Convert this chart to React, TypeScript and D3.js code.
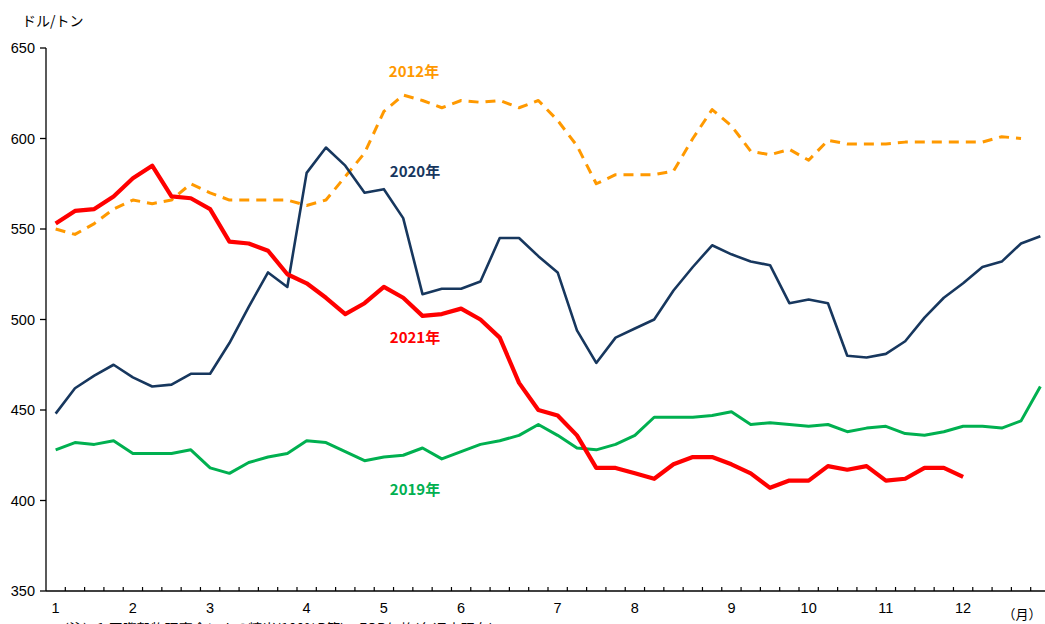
import React, { useRef, useEffect } from 'react';
import * as d3 from 'd3';

const width = 1045;
const height = 624;
const margin = { top: 48, right: -5, bottom: 33, left: 46 };

// weekly FOB prices (ドル/トン)
const weeks = d3.range(52);
const monthLabels = ['1', '2', '3', '4', '5', '6', '7', '8', '9', '10', '11', '12'];
const monthWeeks = [0, 4, 8, 13, 17, 21, 26, 30, 35, 39, 43, 47];
const yTicks = [350, 400, 450, 500, 550, 600, 650];

const y2012 = [
  550, 547, 553, 561, 566, 564, 566, 575, 570, 566, 566, 566, 566, 563, 566, 579, 592, 615,
  624, 621, 617, 621, 620, 621, 617, 621, 610, 596, 575, 580, 580, 580, 582, 600, 616, 607,
  593, 591, 594, 588, 599, 597, 597, 597, 598, 598, 598, 598, 598, 601, 600,
];
const y2020 = [
  448, 462, 469, 475, 468, 463, 464, 470, 470, 487, 507, 526, 518, 581, 595, 585, 570, 572,
  556, 514, 517, 517, 521, 545, 545, 535, 526, 494, 476, 490, 495, 500, 516, 529, 541, 536,
  532, 530, 509, 511, 509, 480, 479, 481, 488, 501, 512, 520, 529, 532, 542, 546,
];
const y2021 = [
  553, 560, 561, 568, 578, 585, 568, 567, 561, 543, 542, 538, 525, 520, 512, 503, 509, 518,
  512, 502, 503, 506, 500, 490, 465, 450, 447, 436, 418, 418, 415, 412, 420, 424, 424, 420,
  415, 407, 411, 411, 419, 417, 419, 411, 412, 418, 418, 413,
];
const y2019 = [
  428, 432, 431, 433, 426, 426, 426, 428, 418, 415, 421, 424, 426, 433, 432, 427, 422, 424,
  425, 429, 423, 427, 431, 433, 436, 442, 436, 429, 428, 431, 436, 446, 446, 446, 447, 449,
  442, 443, 442, 441, 442, 438, 440, 441, 437, 436, 438, 441, 441, 440, 444, 463,
];

const series = [
  { name: '2019年', values: y2019, color: '#00b050', width: 3, dash: null, lx: 415, ly: 495 },
  { name: '2012年', values: y2012, color: '#ff9900', width: 3, dash: '10,7', lx: 414, ly: 77 },
  { name: '2020年', values: y2020, color: '#17375e', width: 2.6, dash: null, lx: 415, ly: 177 },
  { name: '2021年', values: y2021, color: '#ff0000', width: 4.2, dash: null, lx: 415, ly: 343 },
];

const App: React.FC = () => {
  const ref = useRef<SVGSVGElement>(null);

  useEffect(() => {
    const svg = d3.select(ref.current);
    svg.selectAll('*').remove();

    const x = d3
      .scaleBand()
      .domain(weeks.map(String))
      .range([margin.left, width - margin.right]);
    const y = d3
      .scaleLinear()
      .domain([350, 650])
      .range([height - margin.bottom, margin.top]);
    const cx = (i: number) => (x(String(i)) ?? 0) + x.bandwidth() / 2;
    const axisY = height - margin.bottom;
    const tickFont = '"Liberation Sans", Arial, sans-serif';

    // y axis
    svg
      .append('line')
      .attr('x1', margin.left)
      .attr('x2', margin.left)
      .attr('y1', margin.top)
      .attr('y2', axisY)
      .attr('stroke', '#000')
      .attr('stroke-width', 1.3);
    const yt = svg.append('g').selectAll('g').data(yTicks).join('g');
    yt.append('line')
      .attr('x1', margin.left - 6)
      .attr('x2', margin.left)
      .attr('y1', (d) => y(d))
      .attr('y2', (d) => y(d))
      .attr('stroke', '#000')
      .attr('stroke-width', 1.3);
    yt.append('text')
      .attr('x', 35)
      .attr('y', (d) => y(d) + 5)
      .attr('text-anchor', 'end')
      .attr('font-family', tickFont)
      .attr('font-size', 14.5)
      .text((d) => d);

    // x axis
    svg
      .append('line')
      .attr('x1', margin.left)
      .attr('x2', width)
      .attr('y1', axisY)
      .attr('y2', axisY)
      .attr('stroke', '#000')
      .attr('stroke-width', 1.3);
    svg
      .append('g')
      .selectAll('line')
      .data(weeks)
      .join('line')
      .attr('x1', (d) => (x(String(d)) ?? 0) + x.bandwidth())
      .attr('x2', (d) => (x(String(d)) ?? 0) + x.bandwidth())
      .attr('y1', axisY)
      .attr('y2', axisY - 4)
      .attr('stroke', '#000')
      .attr('stroke-width', 1.2);
    svg
      .append('g')
      .selectAll('text')
      .data(monthWeeks)
      .join('text')
      .attr('x', (d) => cx(d))
      .attr('y', 613)
      .attr('text-anchor', 'middle')
      .attr('font-family', tickFont)
      .attr('font-size', 14.5)
      .text((d, i) => monthLabels[i]);
    svg
      .append('text')
      .attr('x', 1022)
      .attr('y', 619)
      .attr('text-anchor', 'middle')
      .attr('font-family', '"Noto Sans CJK JP", sans-serif')
      .attr('font-size', 13)
      .text('（月）');

    svg
      .append('text')
      .attr('x', 22)
      .attr('y', 26)
      .attr('font-family', '"Noto Sans CJK JP", sans-serif')
      .attr('font-size', 14)
      .text('ドル/トン');

    // footnote, cut by the bottom edge as in the source
    svg
      .append('text')
      .attr('x', 55)
      .attr('y', 634)
      .attr('font-family', '"Noto Sans CJK JP", sans-serif')
      .attr('font-size', 14)
      .text('（注）1.国際穀物理事会による精米(100%B等)のFOB価格(各週末現在)');

    const line = d3
      .line<number>()
      .x((d, i) => cx(i))
      .y((d) => y(d));

    series.forEach((s) => {
      svg
        .append('path')
        .datum(s.values)
        .attr('d', line)
        .attr('fill', 'none')
        .attr('stroke', s.color)
        .attr('stroke-width', s.width)
        .attr('stroke-linejoin', 'round')
        .attr('stroke-dasharray', s.dash ?? null);
      svg
        .append('text')
        .attr('x', s.lx)
        .attr('y', s.ly)
        .attr('text-anchor', 'middle')
        .attr('font-family', '"Noto Sans CJK JP", sans-serif')
        .attr('font-weight', 'bold')
        .attr('font-size', 15)
        .attr('fill', s.color)
        .text(s.name);
    });
  }, []);

  return (
    <div style={{ position: 'absolute', left: 0, top: 0 }}>
      <svg ref={ref} width={width} height={height} style={{ display: 'block', background: '#fff' }} />
    </div>
  );
};

export default App;
